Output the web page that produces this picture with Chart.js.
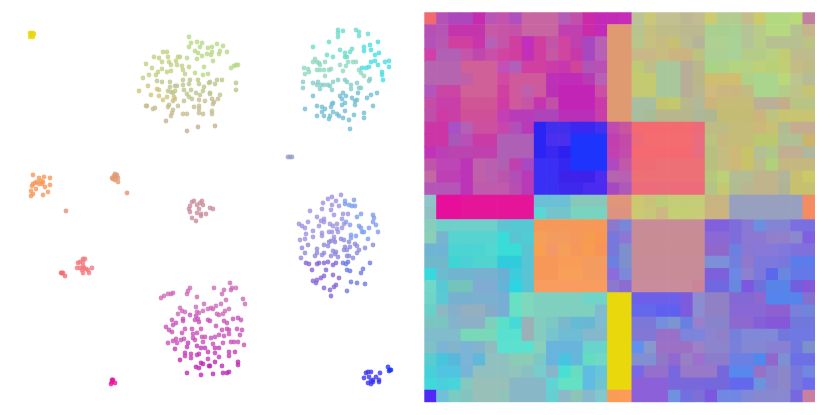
<!DOCTYPE html>
<html>
<head>
<meta charset="utf-8">
<title>Cluster map and grid</title>
<script src="https://cdn.jsdelivr.net/npm/chart.js@4"></script>
<style>
  html, body { margin: 0; padding: 0; background: #fff; }
  #scatterBox { position: absolute; left: 0; top: 0; width: 420px; height: 415px; }
  #gridBox { position: absolute; left: 420px; top: 0; width: 410px; height: 415px; }
</style>
</head>
<body>
<div id="scatterBox"><canvas id="scatterChart" width="420" height="415"></canvas></div>
<div id="gridBox"><canvas id="gridChart" width="410" height="415"></canvas></div>
<script>
// left panel, points
const yellowPts = [[30,33],[33,33],[31,35],[34,34],[30,37],[33,37],[32,36],[31,34]];
const orangePts = [[33,175],[50,178],[39,178],[44,177],[37,182],[41,181],[43,182],[35,183],[33,184],[32,186],[39,184],[42,184],[45,187],[50,185],[31,191],[36,189],[48,192],[43,195],[31,196],[33,194]];
const peachPts = [[115,174],[112,178],[116,177],[118,178],[113,179],[115,180],[118,182],[114,176],[117,175]];
const strayPts = [[127,193],[66,211]];
const greenTop = [[189,37],[197,42],[191,43],[202,43],[189,47],[200,47],[195,51],[208,48],[198,53],[207,54],[202,56],[212,47],[217,44],[223,46],[220,51],[227,52],[212,52],[211,55],[219,54],[213,61],[231,68],[234,66],[238,65],[236,65],[197,59],[187,58],[204,67],[208,74],[203,75],[195,73]];
const greenLeft = [[163,52],[167,52],[168,57],[154,57],[159,58],[178,57],[180,57],[162,62],[169,62],[176,61],[146,64],[171,65],[177,65],[182,66],[189,67],[152,68],[162,69],[183,70],[158,72],[167,72],[171,71],[156,75],[149,75],[185,74],[143,78]];
const greenMid = [[157,81],[162,82],[170,82],[183,80],[190,80],[198,80],[183,85],[189,84],[199,84],[209,83],[175,86],[177,86],[204,87],[170,87],[168,91],[171,92],[175,91],[184,90],[191,90],[203,91],[196,93],[210,93],[173,93],[217,80],[222,80],[210,82],[215,84],[236,83],[236,90],[210,94],[220,95],[187,94],[189,97],[200,95],[192,99]];
const oliveLeft = [[148,86],[139,91],[157,89],[159,90],[151,95],[159,96],[167,97],[174,97],[163,100],[175,99]];
const tanLow = [[184,101],[199,100],[205,101],[173,101],[169,105],[178,106],[147,106],[146,106],[155,108],[153,109],[168,107],[194,107],[199,106],[199,109],[173,110],[172,113],[199,113],[203,114],[183,114],[187,114],[171,116],[218,99],[212,99],[214,102],[213,104],[212,111],[212,114]];
const tanTail = [[166,121],[198,127],[187,131],[215,126]];
const aquaTop = [[338,30],[343,31],[356,30],[359,32],[338,33],[338,37],[368,34],[359,36],[329,42],[313,47],[352,49],[340,50],[350,52],[345,53],[327,55],[333,57],[345,57],[347,57]];
const cyanRight = [[378,42],[370,45],[364,47],[371,50],[364,51],[379,53],[375,55],[371,62],[375,61],[385,62],[389,61],[378,65],[389,67],[369,67],[366,68],[362,68],[382,72],[382,75],[383,80]];
const paleTeal = [[315,59],[313,62],[317,62],[325,62],[319,63],[320,65],[304,68],[308,69],[317,70],[320,70],[324,70],[329,70],[331,69],[309,72],[305,74],[325,76],[343,71],[340,65],[346,66],[348,62],[353,62],[356,62],[359,70],[361,73],[364,76]];
const tealMid = [[303,82],[318,82],[313,83],[317,85],[321,85],[324,85],[328,85],[330,86],[333,82],[303,88],[320,89],[332,90],[338,80],[345,80],[347,82],[351,85],[357,83],[351,89],[359,88],[361,88],[370,79],[369,81]];
const tealLow = [[313,96],[343,93],[340,96],[346,96],[358,93],[377,93],[371,95],[367,98],[352,98],[342,99],[357,100],[355,101],[345,103],[333,103],[332,104],[342,105],[355,105],[373,106],[317,106],[322,107],[331,107],[325,109],[305,109],[345,111],[333,112],[322,112],[337,114],[339,116],[354,115],[364,113],[317,116],[324,116],[330,116],[329,119],[343,118],[349,120],[364,118],[350,129]];
const slatePts = [[288,157],[290,157],[292,157]];
const mauvePts = [[192,202],[194,201],[202,201],[200,203],[190,206],[197,205],[203,205],[189,209],[199,209],[190,212],[197,213],[201,214],[206,214],[201,216],[192,218],[196,221],[210,208],[213,209]];
const coralLoose = [[83,259],[85,259],[80,262],[83,262],[78,263],[77,268],[80,268],[83,266],[86,269],[92,268],[82,270],[88,270],[83,273],[89,273],[84,268]];
const coralDense = [[62,273],[63,273],[65,276],[61,273]];
const hotPinkPts = [[112,380],[113,380],[115,383],[111,384],[112,382]];
const magentaTop = [[190,288],[188,291],[187,294],[173,293],[171,294],[168,294],[164,296],[161,298],[197,297],[204,304],[196,307],[208,309],[180,308],[182,311],[203,311],[178,314],[185,312],[197,312],[199,313],[214,288],[224,290],[230,283],[231,290],[222,294],[226,300],[221,304],[216,306],[211,308],[213,309],[229,309],[225,311],[223,314],[217,314],[219,315],[232,288],[236,288],[243,299],[245,304]];
const magentaMid = [[190,315],[196,316],[172,320],[183,319],[183,321],[195,320],[198,319],[199,322],[208,320],[210,321],[176,323],[173,325],[166,327],[185,329],[201,329],[192,329],[169,330],[172,332],[182,333],[193,334],[197,333],[202,337],[205,337],[193,338],[195,340],[203,342],[176,339],[184,339],[181,340],[173,341],[168,343],[177,343],[233,319],[238,318],[241,320],[224,321],[227,323],[216,326],[222,330],[227,329],[229,330],[237,329],[242,330],[229,334],[224,336],[219,335],[240,335],[215,337],[211,338],[231,342],[234,342],[238,342],[244,345],[223,343],[213,344]];
const magentaLow = [[188,343],[197,346],[201,348],[205,348],[187,347],[175,349],[208,352],[185,353],[191,354],[199,354],[185,356],[197,355],[191,358],[208,359],[215,348],[219,348],[229,352],[235,352],[215,353],[229,356],[219,357]];
const magentaDeep = [[180,360],[201,363],[203,364],[196,367],[199,368],[209,366],[187,373],[201,375],[215,362],[238,362],[238,365],[222,366],[210,366],[223,373],[227,373],[229,372],[213,374]];
const periTopRight = [[354,200],[345,201],[345,204],[349,205],[352,206],[355,206],[361,214],[357,217],[373,215],[374,218],[373,222],[346,222],[350,225],[359,226],[361,228],[369,228],[376,225],[378,232],[364,232],[362,232],[351,235],[356,236],[368,239],[351,238]];
const periTopLeft = [[341,195],[332,197],[328,199],[336,201],[323,203],[332,205],[339,206],[310,211],[322,209],[331,210],[334,215],[343,214],[348,214],[317,217],[342,219],[308,222],[321,221],[324,222],[324,219],[299,224],[330,224],[337,224],[344,224],[333,226],[319,226],[302,226],[305,228],[342,228],[337,229],[313,231],[306,234],[338,232],[329,232],[332,232],[322,233],[322,236],[313,237],[300,240],[305,239],[334,237],[334,240]];
const periMid = [[331,241],[341,239],[344,240],[349,242],[329,242],[335,242],[324,245],[328,246],[373,245],[308,245],[355,244],[357,246],[350,247],[345,247],[365,248],[302,248],[317,249],[347,250],[344,250],[359,250],[333,251],[336,252],[324,253],[317,253],[305,253],[357,253],[335,254],[322,255],[315,256],[331,256],[347,256],[349,256],[338,257],[353,258],[301,258]];
const violetLow = [[328,262],[324,263],[336,263],[306,263],[309,264],[319,263],[317,264],[333,265],[312,270],[326,270],[333,275],[339,278],[324,276],[321,278],[317,280],[313,281],[316,283],[336,285],[334,287],[324,288],[330,290],[331,296]];
const blueLow = [[343,263],[348,262],[346,264],[370,263],[347,270],[350,271],[363,269],[361,273],[351,282],[357,283],[365,284],[347,291]];
const indigoPts = [[380,373],[366,373],[368,372],[371,372],[364,378],[369,377],[376,377],[373,380],[371,381],[379,380],[379,382],[368,383],[371,384],[373,382]];
const royalPts = [[388,367],[390,370],[389,371],[391,370]];

const scatterGroups = [yellowPts, orangePts, peachPts, strayPts, greenTop, greenLeft, greenMid, oliveLeft, tanLow, tanTail, aquaTop, cyanRight, paleTeal, tealMid, tealLow, slatePts, mauvePts, coralLoose, coralDense, hotPinkPts, magentaTop, magentaMid, magentaLow, magentaDeep, periTopRight, periTopLeft, periMid, violetLow, blueLow, indigoPts, royalPts];
const groupColors = ['#e8d80c', '#f59858', '#e09a72', '#ea8c6c', '#b8d884', '#c0cf80', '#bcc68c', '#cfc478', '#c6bc90', '#c4ae90', '#6adcc8', '#45dce4', '#90d8c0', '#84ccc8', '#72bcd4', '#94a0c4', '#c88c9c', '#f4777a', '#f46a70', '#e8109c', '#cc68b8', '#c850b8', '#c23cb8', '#bc28b0', '#7c9cf0', '#9a90e0', '#8c88dc', '#8464d8', '#6878e8', '#3a30f5', '#1c34fc'];

// right panel, 32 rows of 32 cell colours, "colour*n" is a run of n cells
const cellRows = [
  'f06a6f b552b8 ad47bd*2 c62cb0 bb55b5 c353ad b04fc0 c766a0*3 b55cb8 c250a8 cb2aa8 c42ab8*2 c62cb8 bcc298 c8c878 c2c090*2 bdb893 c2bc90 cdcb70 b2cc90*2 c4bc8a cccb6c b2d880*2 b8da78 c2809f',
  'b84fb5 b555b5 c435ad*3 c65aa5 c655a5 c552a8 c766a0*3 c23fb0 c040b0 cb2aa8 c22ab8 e09a72*2 b8c490 c6c080 c0bc88 bebc8a bcb890*2 a9d090 a9cf90 a8d294 b5c494 b8cc88 b6d880*2 b4c48e c6b48a',
  'b552b8 b858b0 d040a0*2 c835ad b860b8 c555a8 d03fa0 c22ebd d03fa0 c255a8 d045a0 bf40b0 a848c0 b860b5 e09a72*2 b8c68c c8c080 c6bc80 c6c074 bcbc90 b6b498 aed092*2 a8d296 b4c496 b8cc88 b6c090*3 bcc284',
  'd040a8 b060b5*2 c455aa c048ad c850a8 d045a0 d03fa0 c230b8 d03fa0 c458a5 d045a0 c838a8 a848c0 b860b5 e09a72*2 c8b888*2 c8bc80 ccb480*2 bcc280 acd094*2 a8d296 b4cc88*2 b8d080 c2cc72 bebc8c*2',
  'b565b0*3 cf6098*3 c350b8 b060b8 d040a0*2 cc3ca8 c838ad d0459a b055b8 b850b5 e09a72*2 bfca74 bebe88 a8c89c*2 b8ae98 bcb68e a8d485 aed088 b4d480 b6d084 bed078 bad078 c0ce74 c4bc84 bebc84',
  'b565b0*3 bf60a8 cf6098*2 d04aa0 cf5a9b*3 be30b8 c02cb8*2 b83ab5 b860b5 e09a72*2 c4ca70*2 a8c89c*2 b8ae98 bab688 cfbd70*3 afd088 a9d68c*2 b8d87a bcc490 b8bc94',
  'b355bd cb45a5*2 cf6098*3 d040a0 cf5a9b c060ad cd5a9f bb30b5 c225b5*3 cb50a5 e09a72*2 c4ca74*2 a8c89c*2 b8ae98 bab690 cfba80 ccb680*2 c0bc84 a9d68c*2 b4cc88 bcc48a c4c474',
  'c44da8 c83faa*2 cf5595*3 d03ca5 cf5a9b c655a5 c535b0 c050a8 c225b5*3 c83caa e09a72*2 a8bea0*2 c4c470 c4c86c b8b88c b2b898 ccb47a c6bc78*3 bab098*2 c4ae88 b8c484*2',
  'be50aa cf3aa5 c840a5 cf5098*3 c23fb5 b83cba*2 ae44ba*2 b82fb8*3 c93faa e09a72*2 a8bea0 a8bc98 b8b68c*3 aeb898 aeb890 c4bc74*3 ccb47c bcc480 c8c472*3',
  'cc35a5*2 a850c5 b560b5 cb50a0*2 c845ad b050b8 b83ab8 2a24f5 4030ee*2 3a28f0*2 4030f0 c04ab0 c8569e f46a70*5 ec6a7a bcbc84*2 c4bc78*2 ccb878 c8c074 b2bc90 c4ac90*2',
  'cc35a5*2 a858b8 b850b8 c93ca5*2 ad60b5*3 2a24f5 4a30ee*2 1c34fc*3 c040b0 c44aaa ee6a78 f46c70*4 e96c80 bac480 c8b880 c4bc78*2 bcc870*2 b0c094*2 ccb46c',
  'c233b8 bb40b5 bb45b0*2 c040ad*2 ad60b5*3 2a24f5 3a28ee 2e20ee 1c34fc*3 c240b0 c24caa f46a70*5 e96c80 b8c080 c4bc80 cdb878 c8c268 b2c094 afc888 c2ae90*2 b0b89c',
  'bf55a8 be45b5*2 bc35b8 bf60ab b85fb0 b060b0 c040b0 a848c5 3a30f5*2 3428f0 1c34fc*3 b048c0 c258a8 f06c74*2 ec7076*4 b8c080 c4bc80 cdb878 c8c268 bcbc8c b0d07c c4b880*3',
  'c468a5 be40b5*2 bc35b8 bf60a8 b85fb0 bb55ab b04fb8 b83ab8 3a30f5*2 3c22ea*3 4c2cf0 b565ad b860b4 ec7074*6 b6c87c bcd078 b4bc94*2 c0b48c*2 b4b498 c8c070 ccca68',
  'b555b8*3 bc35b8 bf5aac*3 b84fb0 b83ab8 3a30f5*2 3f28ee*2 4a2cf0*2 a848c0 ae58b8 ec6c7c*6 b4c484 c4c870 b2bc92 bab690 c0b48c*2 b0b494 c8c06c c6c072',
  '8fc4c8 e80e9c*2 e5159a*6 6bc0d5*3 88c8bb*3 e09678 e09678 ccc870 c8c27a bccb78 c4cc78*3 c8b480*2 98a0c0*6 f28c64',
  '90c0c4 e80e9c*2 e5159a*6 58d8d4 74c4cc*2 78d4c0*3 dc9480 dc9480 ccca70 c8c678 ccb880 c4cf74*2 c8cc78 ccb480*2 98a0c0*6 f48c60',
  '8accbc 6ed0c8*5 60c4d0 55c8d4*2 f59858*6 8c78cc 7888d8 c88c98*6 8060dc*2 7c6cdc 8878d4 6c90e0 8484d4*2 7c70e0 7870e0',
  '8acfb8 78b4d0 58d4d0*4 38dcd8 5ac4d4 50ccd4 f4a058 f49c60*2 f4985c f69c50 f89850 7878dc 8c78d4 c88c98 c88c94*5 8c68d4*2 7c6cdc 8c78d4*2 9080cc*2 8c88d0 8060e0',
  '70b4d4*2 4cd4d4*3 52d8d0 3adcd8*2 58c4d4 f8a050 f49868 f4a058 f69858 f89c50 f89458 7878dc 7c90cc c88c94*6 9068cc*2 6c80e0 8878d4 8878d8*2 8078dc 8070dc*2',
  '70b8cc*2 40d4d4 4cd0d8 50d4d0*2 30ccdc*2 58c4d4 f89858*2 f89c58*2 f49c60*2 6c80e0 7c90cc c88c98*6 7c90d8*2 7080dc 9078cc 7c78dc*2 7878dc 5c7cec*2',
  '38d8e0 6cbcd0 70b4d0*2 78b0d0*2 6ab0d4 3cccdc 58c4d4 f89858*2 f8a058*2 f49c60*2 8c6cdc 7c88d8 c88c98*6 7c60dc*2 6c88e4 8c80d0 7c78dc 5c68ec 6888e0 6478e8*2',
  '70d8c8 58c8d4 74c4bc*2 80acd4*2 64b4d8 2cd4e4 58c4d4 f89c60*6 8c78cc 8c6cd0 c88c9c*5 cc8498 7068e0*2 6888e0 7c58e0 7070dc 5884e8*2 7060e0 8458d8',
  '70d4c8 5cc8d4 78b0d0*2 7cb0d0*2 78aed4 68e0c4 80d8bc 80d0c0*4 70d4c8*2 e8d80c*2 6c60e8*4 7c5cdc 8c8cd0 9080c4*2 8468d4*2 8c68d0 5484ec*3 8470d0',
  '68d0c8 8cb8c4 84b0cc 94b0c0*2 84acc8 78aed4 68e0c4 80d8bc 80d0c0*5 80bcd0 e8d80c*2 6468ec*2 6060f0*2 7c5cdc 8c8cd0 9080c4*2 8868d4*3 8c60d0*2 7880dc 7084dc',
  '7cc4c0*2 84b4cc 8cb0c8*2 7cd0bc 58e0c8 48d8d8 9cb0b8 84ccc0 7cc8c4 7cb8cc 64bcd4 68b8d4 80bcd0 e8d80c*2 7c78d8*2 7490dc 7c94d0 6880e0 9880cc 8884cc*2 8c68d0*2 8460d8 8458d8*2 7078dc*2',
  '80bccc*3 78d8b8*3 58e0d0*2 9cb0b8 84ccc0 78c4cc 70bcd4*2 84b8cc*2 e8d80c*2 8078d4*2 9870c8*2 7c84dc*2 8c84d0 9080c8 7480dc 8088d8*3 7078dc 7078e4*2',
  '80c0c8 7cb4d4 84b4cc 7cb4d8 84b4cc 90bcc0 5ce0d0*3 88d0bc 68b4dc*3 68d4cc*2 e8d80c*2 6090f0 8898cc 9c70c4*3 9c80c8 8c84cc*2 7880dc 8488d4*2 8880d4*2 7078e0 7c90cc',
  '58ccd0 48c4dc 58b8dc 7cb4d8 60b8dc 90c0c0*2 8cccb4*2 7cc8c4 68b4dc 48c4e0 64b8dc 64dcc0 70d8c4 e8d80c*2 8090d0*2 9078c8 9068d0 9880c4 9c70cc 8c7ccc*2 6c80e4*2 5088ec 9068cc 7c90d4 6c70e4*2',
  '48d0d8 50c4e0*2 78b4d8 90c0c0*3 90c4bc 88c0c4 78cccc 88b4cc 48e0d4 68dcc0 60bce0 68c4d8 e8d80c*2 7868e8 9470cc*2 7868e0 9878c8*3 7468dc 5888ec*2 9870c4 8880d0 8c88c8 7878dc 7088e0',
  '40d8d8 48d0dc 48d4d8 84c8c0 98c0b8*3 88b8c8*3 60d4d4 64e0c4*2 60bce0 70c4d0 e8d80c*2 8c60d8*3 7868dc*3 7468dc*2 6468ec*2 6c94dc 8880d0 8c88c8 7878dc 6c6cec',
  '5028f8 70c0d8 78ccc4 84c4c0 98c0b8*2 90c4b8 88b8c8*3 64d0d4 8cb8c8 8cc4b8 88b8cc 80c8cc f89c58 fc9c58 8c60d8*3 7090e0 7070e0 7c70d8 7c58e0 7088e4*2 8088d8 8888d0*3 7868e0 c880a0'
];
const columnLabels = Array.from({ length: 32 }, (_, i) => String(i + 1));

function expandRow(row) {
    const cells = [];
    row.split(' ').forEach(part => {
        const [hex, count] = part.split('*');
        for (let i = 0; i < Number(count || 1); i++) cells.push('#' + hex);
    });
    return cells;
}

// 1. SCATTER
new Chart(document.getElementById('scatterChart'), {
    type: 'scatter',
    data: {
        datasets: scatterGroups.map((pts, i) => ({
            data: pts.map(p => ({ x: p[0], y: p[1] })),
            backgroundColor: groupColors[i] + 'c8',
            borderWidth: 0,
            pointRadius: 2.4
        }))
    },
    options: {
        responsive: false,
        animation: false,
        layout: { autoPadding: false },
        plugins: { legend: { display: false }, tooltip: { enabled: false } },
        scales: {
            x: { display: false, min: 0, max: 420 },
            y: { display: false, min: 0, max: 415, reverse: true }
        }
    }
});

// 2. GRID, bottom row is stacked first
new Chart(document.getElementById('gridChart'), {
    type: 'bar',
    data: {
        labels: columnLabels,
        datasets: cellRows.slice().reverse().map(row => ({
            data: columnLabels.map(() => 1),
            backgroundColor: expandRow(row),
            barPercentage: 1,
            categoryPercentage: 1
        }))
    },
    options: {
        responsive: false,
        animation: false,
        layout: { padding: { left: 4.3, right: 15, top: 12.3, bottom: 12.7 } },
        plugins: { legend: { display: false }, tooltip: { enabled: false } },
        scales: {
            x: { display: false, stacked: true },
            y: { display: false, stacked: true, min: 0, max: 32 }
        }
    }
});
</script>
</body>
</html>
